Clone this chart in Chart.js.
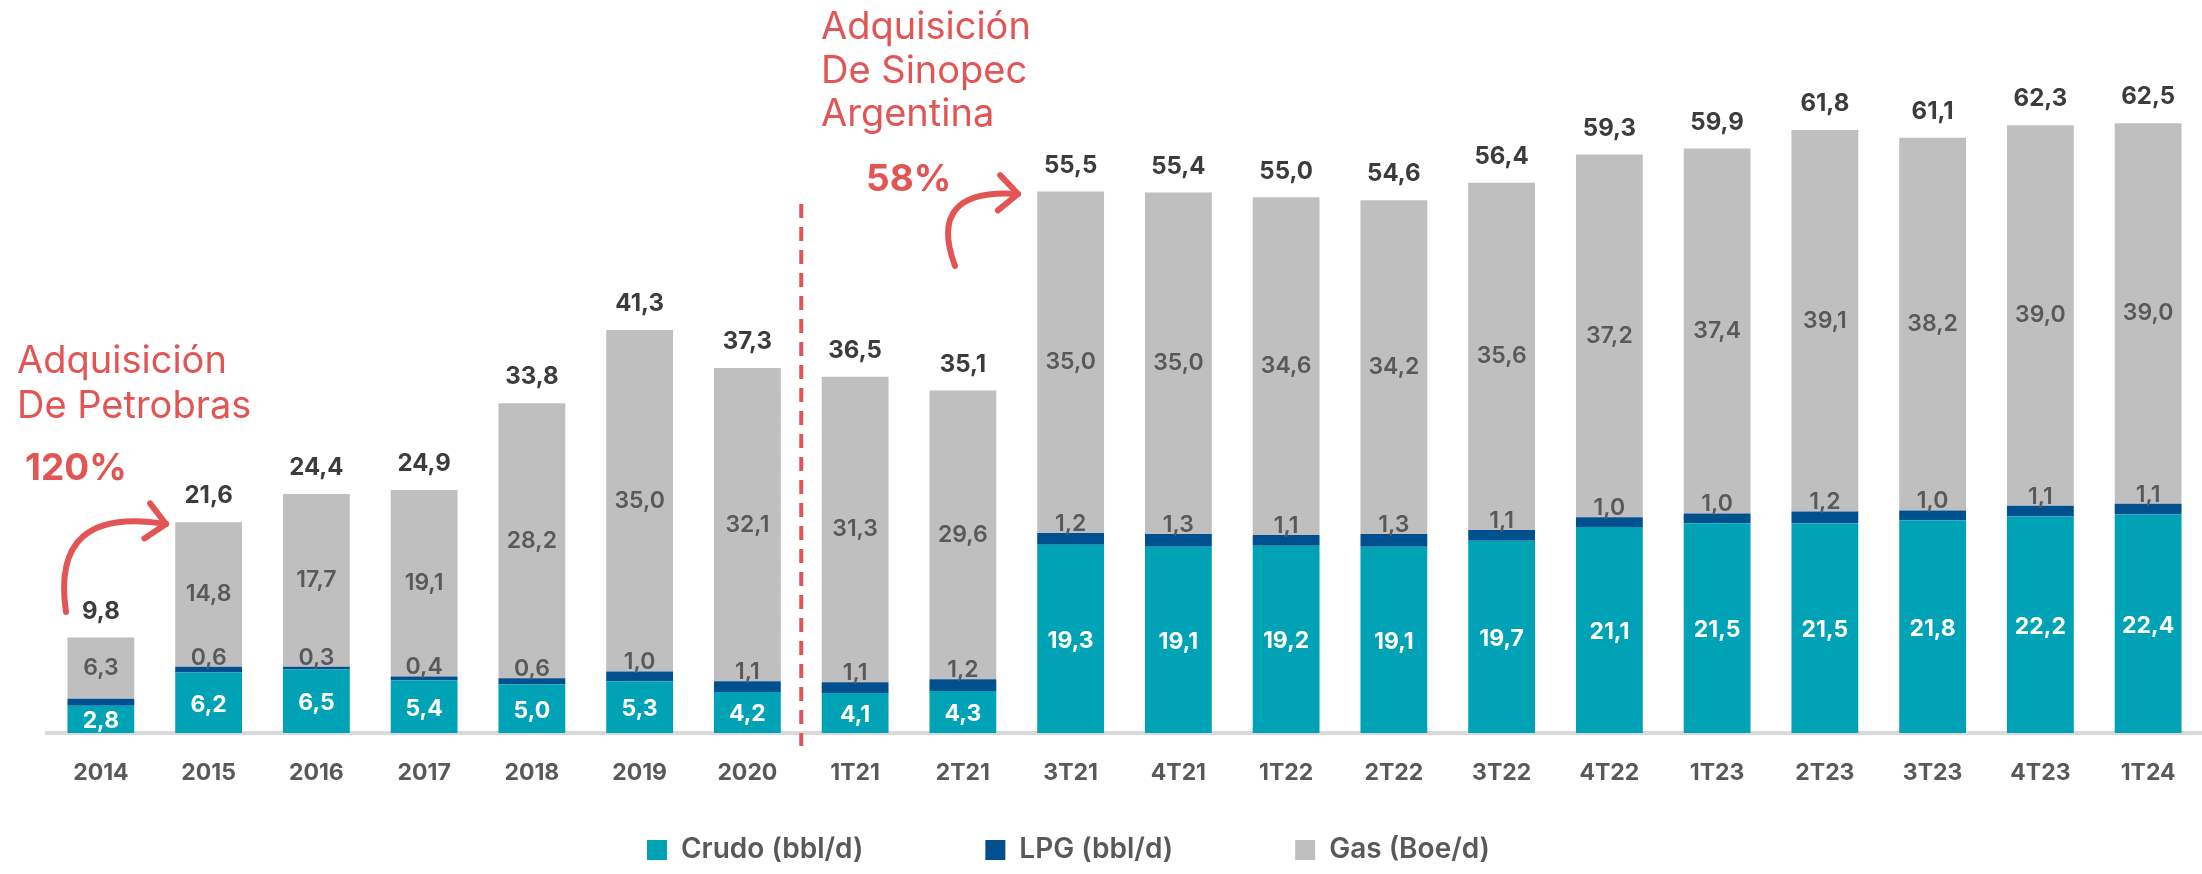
<!DOCTYPE html>
<html lang="es">
<head>
<meta charset="utf-8">
<title>Producción</title>
<script src="https://cdn.jsdelivr.net/npm/chart.js@4.4.1/dist/chart.umd.min.js"></script>
<style>
  html, body { margin: 0; padding: 0; background: #fff; }
</style>
</head>
<body>
<canvas id="produccionChart" width="2202" height="874"></canvas>
<script>
const categorias = ['2014', '2015', '2016', '2017', '2018', '2019', '2020', '1T21', '2T21', '3T21',
    '4T21', '1T22', '2T22', '3T22', '4T22', '1T23', '2T23', '3T23', '4T23', '1T24'];
const crudo = [2.8, 6.2, 6.5, 5.4, 5.0, 5.3, 4.2, 4.1, 4.3, 19.3, 19.1, 19.2, 19.1, 19.7, 21.1, 21.5, 21.5, 21.8, 22.2, 22.4];
const lpg = [0.7, 0.6, 0.3, 0.4, 0.6, 1.0, 1.1, 1.1, 1.2, 1.2, 1.3, 1.1, 1.3, 1.1, 1.0, 1.0, 1.2, 1.0, 1.1, 1.1];
const gas = [6.3, 14.8, 17.7, 19.1, 28.2, 35.0, 32.1, 31.3, 29.6, 35.0, 35.0, 34.6, 34.2, 35.6, 37.2, 37.4, 39.1, 38.2, 39.0, 39.0];
const totales = [9.8, 21.6, 24.4, 24.9, 33.8, 41.3, 37.3, 36.5, 35.1, 55.5, 55.4, 55.0, 54.6, 56.4, 59.3, 59.9, 61.8, 61.1, 62.3, 62.5];
// en 2014 el LPG no lleva etiqueta
const lpgSinEtiqueta = ['2014'];

const fuente = "Inter, 'Noto Sans', sans-serif";
const rojo = '#E25555';

const fmt = v => v.toFixed(1).replace('.', ',');

// etiquetas de cada segmento y del total
const etiquetas = {
    id: 'etiquetas',
    afterDatasetsDraw(chart) {
        const { ctx } = chart;
        const mCrudo = chart.getDatasetMeta(0);
        const mLpg = chart.getDatasetMeta(1);
        const mGas = chart.getDatasetMeta(2);
        ctx.save();
        ctx.textAlign = 'center';
        ctx.textBaseline = 'middle';
        categorias.forEach((cat, i) => {
            const bc = mCrudo.data[i], bl = mLpg.data[i], bg = mGas.data[i];

            ctx.fillStyle = '#ffffff';
            ctx.font = `bold 23px ${fuente}`;
            ctx.fillText(fmt(crudo[i]), bc.x, (bc.y + bc.base) / 2 + 2);

            ctx.fillStyle = '#595959';
            ctx.font = `600 23px ${fuente}`;
            if (!lpgSinEtiqueta.includes(cat)) {
                ctx.fillText(fmt(lpg[i]), bl.x, bl.y - 9);
            }
            ctx.fillText(fmt(gas[i]), bg.x, (bg.y + bg.base) / 2);

            ctx.fillStyle = '#3C3C3C';
            ctx.font = `bold 24px ${fuente}`;
            ctx.fillText(fmt(totales[i]), bg.x, bg.y - 26);
        });
        ctx.restore();
    }
};

function flecha(ctx, p0, c, p1) {
    ctx.beginPath();
    ctx.moveTo(p0[0], p0[1]);
    ctx.quadraticCurveTo(c[0], c[1], p1[0], p1[1]);
    ctx.stroke();
    const ang = Math.atan2(p1[1] - c[1], p1[0] - c[0]);
    const L = 26;
    ctx.beginPath();
    ctx.moveTo(p1[0] - L * Math.cos(ang - 0.75), p1[1] - L * Math.sin(ang - 0.75));
    ctx.lineTo(p1[0], p1[1]);
    ctx.lineTo(p1[0] - L * Math.cos(ang + 0.75), p1[1] - L * Math.sin(ang + 0.75));
    ctx.stroke();
}

// adquisiciones: línea divisoria, textos y flechas
const adquisiciones = {
    id: 'adquisiciones',
    afterDraw(chart) {
        const { ctx, scales: { x } } = chart;
        ctx.save();

        const xDiv = (x.getPixelForValue(6) + x.getPixelForValue(7)) / 2;
        ctx.strokeStyle = rojo;
        ctx.lineWidth = 4;
        ctx.setLineDash([14, 9]);
        ctx.beginPath();
        ctx.moveTo(xDiv, 204);
        ctx.lineTo(xDiv, 746);
        ctx.stroke();
        ctx.setLineDash([]);

        ctx.fillStyle = rojo;
        ctx.textAlign = 'left';
        ctx.textBaseline = 'middle';
        ctx.font = `38px ${fuente}`;
        ctx.fillText('Adquisición', 17, 362);
        ctx.fillText('De Petrobras', 17, 407);
        ctx.fillText('Adquisición', 821, 28);
        ctx.fillText('De Sinopec', 821, 72);
        ctx.fillText('Argentina', 821, 115);
        ctx.font = `bold 37px ${fuente}`;
        ctx.fillText('120%', 25, 469);
        ctx.fillText('58%', 866, 180);

        ctx.lineWidth = 6;
        ctx.lineCap = 'round';
        ctx.lineJoin = 'round';
        flecha(ctx, [66, 612], [50, 505], [166, 524]);
        flecha(ctx, [955, 266], [926, 188], [1018, 194]);

        ctx.restore();
    }
};

const espacio = '\u2003'.repeat(4);

new Chart(document.getElementById('produccionChart'), {
    type: 'bar',
    data: {
        labels: categorias,
        datasets: [
            { label: 'Crudo (bbl/d)', data: crudo, backgroundColor: '#00A2B5' },
            { label: 'LPG (bbl/d)', data: lpg, backgroundColor: '#004F8E' },
            { label: 'Gas (Boe/d)', data: gas, backgroundColor: '#BFBFBF' }
        ]
    },
    options: {
        responsive: false,
        animation: false,
        layout: { padding: { top: 50, left: 47, right: 0, bottom: 0 } },
        datasets: {
            bar: { categoryPercentage: 1, barPercentage: 0.62 }
        },
        scales: {
            x: {
                stacked: true,
                grid: { display: false, drawTicks: false },
                border: { display: true, color: '#D9D9D9', width: 4 },
                ticks: {
                    color: '#595959',
                    padding: 26,
                    font: { family: fuente, size: 23, weight: 'bold' }
                },
                afterFit: scale => { scale.height = 93; }
            },
            y: { stacked: true, display: false, min: 0, max: 70 }
        },
        plugins: {
            tooltip: { enabled: false },
            legend: {
                position: 'bottom',
                labels: {
                    boxWidth: 20,
                    boxHeight: 20,
                    padding: 10,
                    color: '#595959',
                    font: { family: fuente, size: 28, weight: '600' },
                    generateLabels: chart => {
                        const items = Chart.defaults.plugins.legend.labels.generateLabels(chart);
                        items.forEach(it => { it.text += espacio; });
                        return items;
                    }
                }
            }
        }
    },
    plugins: [etiquetas, adquisiciones]
});
</script>
</body>
</html>
